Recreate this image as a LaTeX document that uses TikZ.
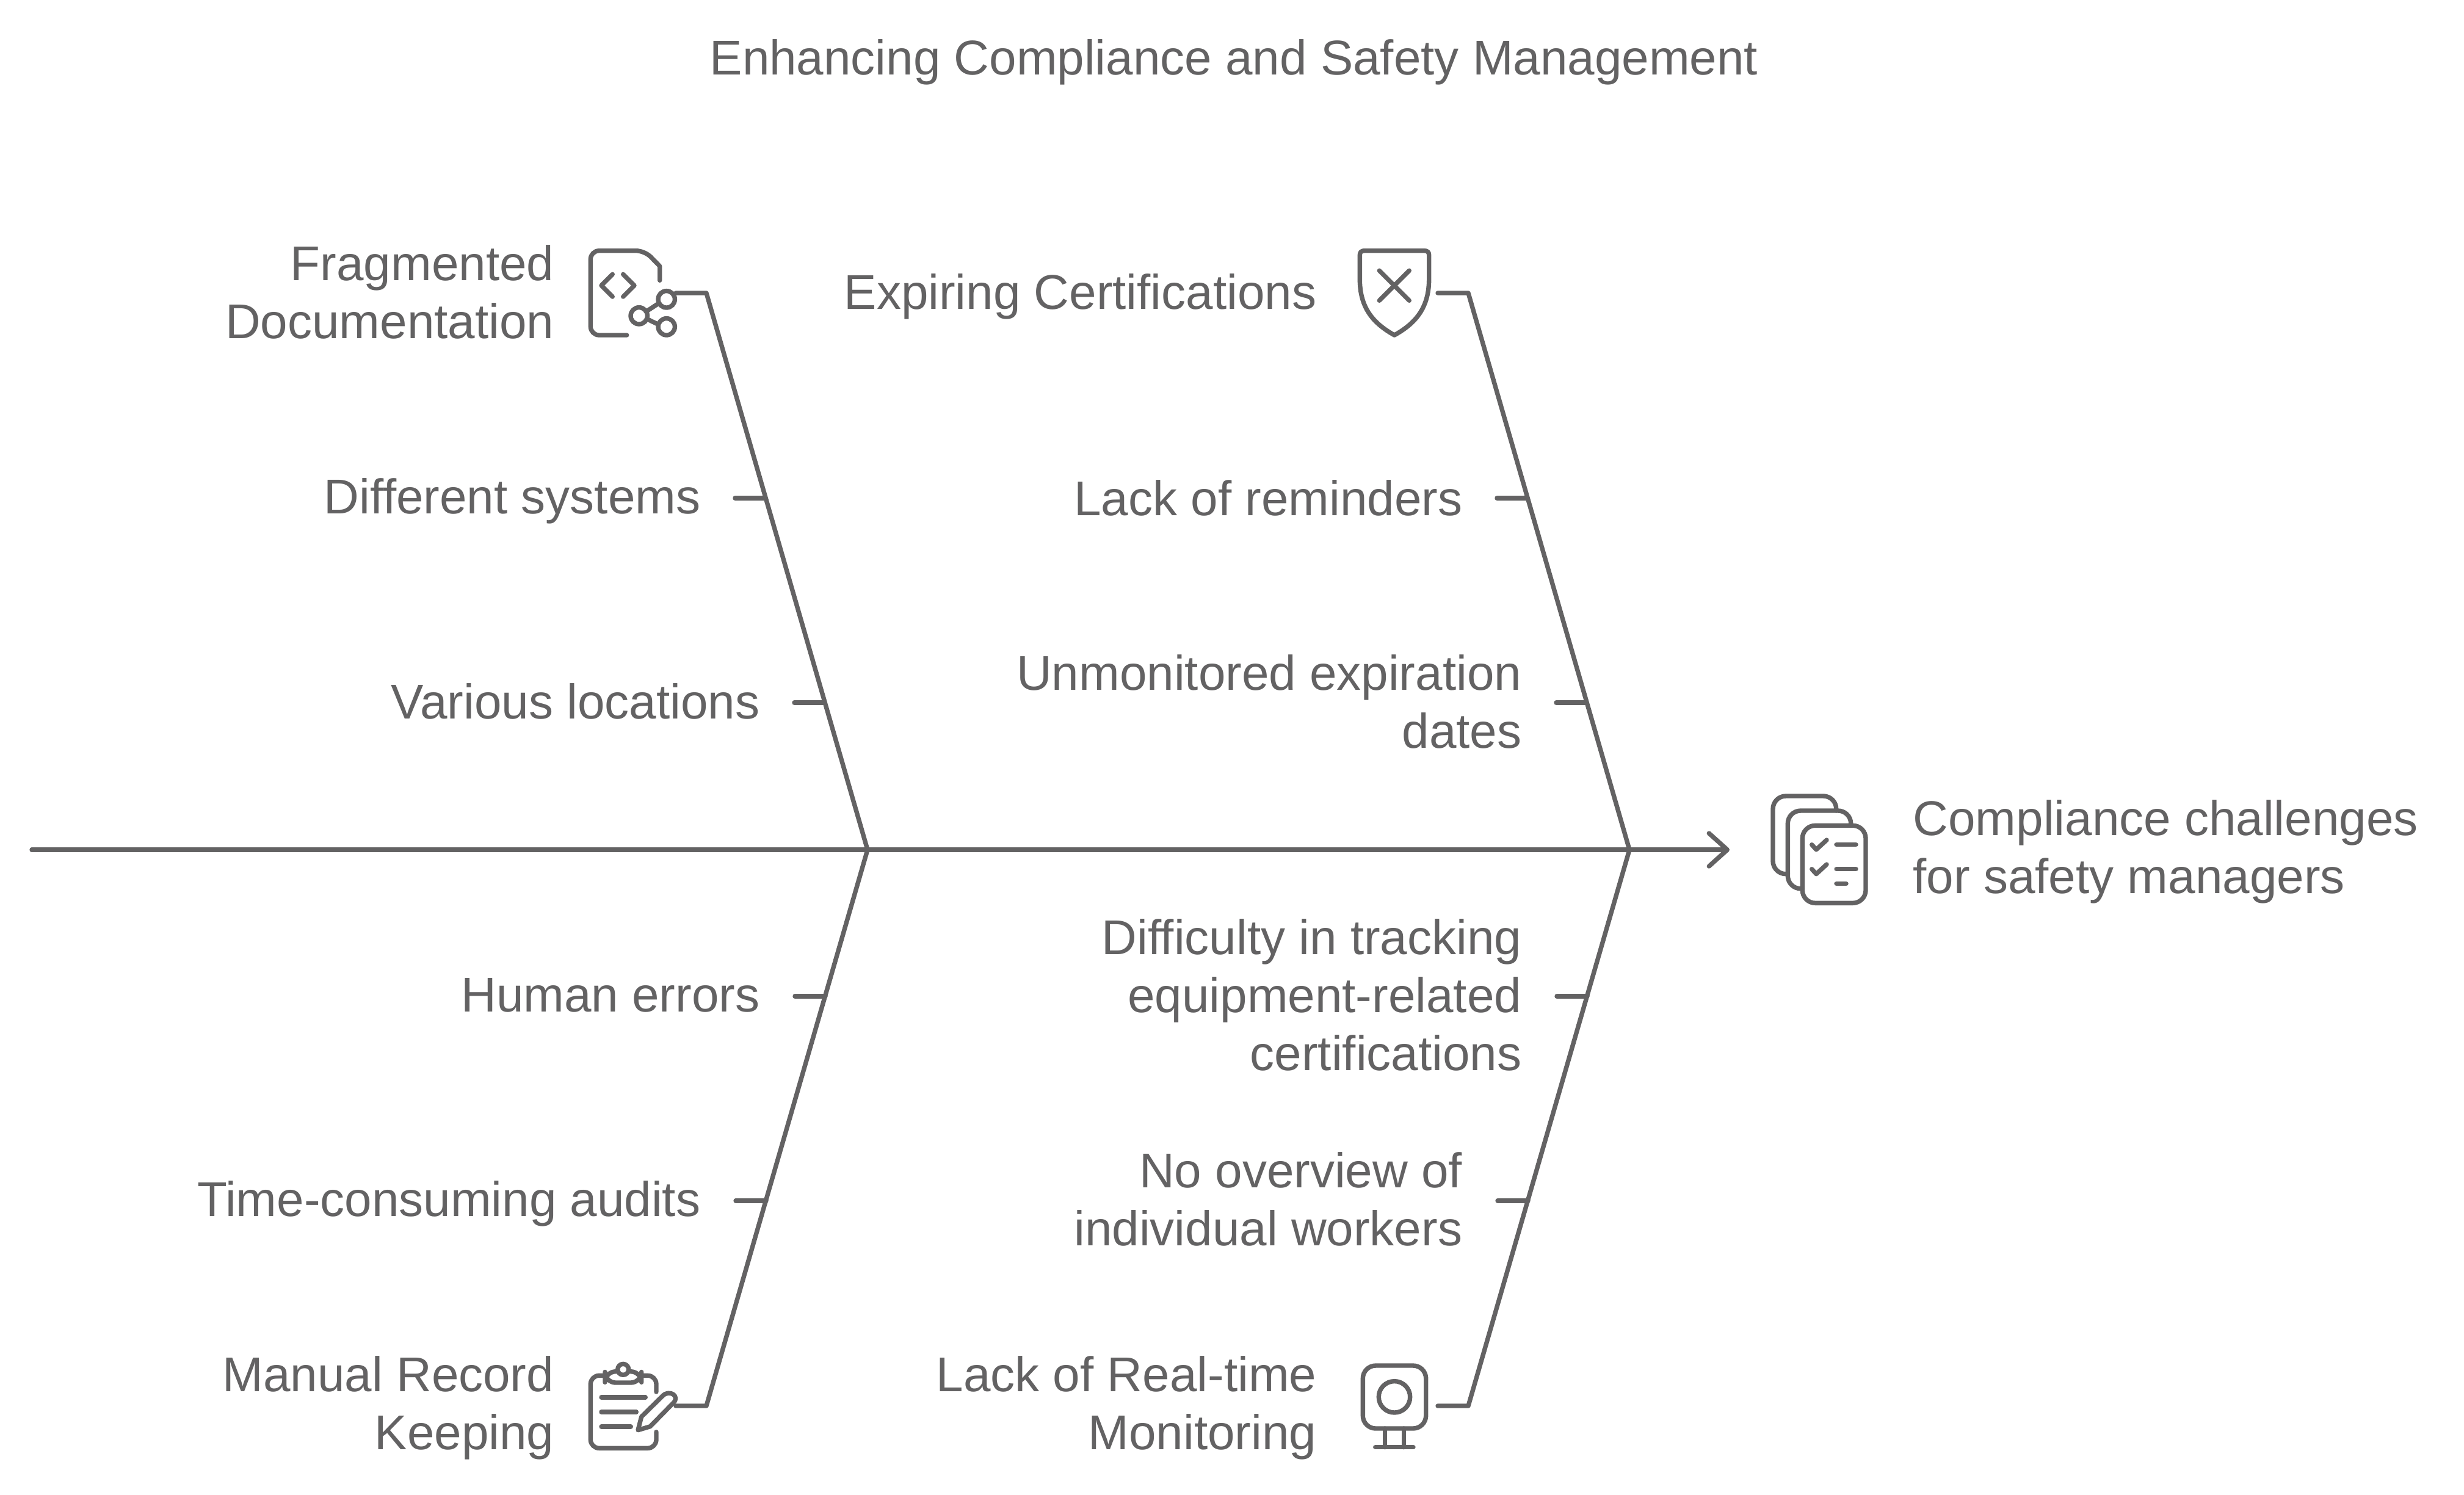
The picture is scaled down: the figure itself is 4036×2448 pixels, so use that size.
\documentclass[tikz,border=0pt]{standalone}
\usepackage{fontspec}
\setmainfont{Liberation Sans}
\usepackage{xcolor}
\usetikzlibrary{arrows.meta}
\definecolor{ink}{HTML}{636263}

\begin{document}
\begin{tikzpicture}[
  x=0.01cm, y=-0.01cm,
  font=\fontsize{22.75}{27}\selectfont,
  >={Straight Barb[round,length=0.3cm,width=0.54cm]},
  lab/.style={text=ink, inner sep=0pt, align=right, anchor=east},
  bone/.style={draw=ink, line width=2.1pt, line cap=round, line join=round},
  icon/.style={bone},
]
\useasboundingbox (0,0) rectangle (4036,2448);

%% -- Title and effect --------------------------------------------------------
\node[lab, anchor=center, align=center] (title) at (2021,102) {Enhancing Compliance and Safety Management};
\node[lab, anchor=west, align=left] (effect) at (3133,1395.5) {Compliance challenges\\for safety managers};

%% -- Labels ------------------------------------------------------------------
\node[lab] (fragdoc)  at (908,478)    {Fragmented\\Documentation};
\node[lab] (diffsys)  at (1148,821)   {Different systems};
\node[lab] (varloc)   at (1245,1149)  {Various locations};
\node[lab] (expcert)  at (2157,486)   {Expiring Certifications};
\node[lab] (lackrem)  at (2396,816)   {Lack of reminders};
\node[lab] (unmon)    at (2493,1149)  {Unmonitored expiration\\dates};
\node[lab] (humerr)   at (1245,1630)  {Human errors};
\node[lab] (audits)   at (1148,1972)  {Time-consuming audits};
\node[lab] (manual)   at (908,2306.5) {Manual Record\\Keeping};
\node[lab] (difftrk)  at (2493,1629.5) {Difficulty in tracking\\equipment-related\\certifications};
\node[lab] (noover)   at (2396,1964.5) {No overview of\\individual workers};
\node[lab] (realtime) at (2157,2306.5) {Lack of Real-time\\Monitoring};

%% -- Spine -------------------------------------------------------------------
\coordinate (spinestart) at (52,1392);
\coordinate (jointl)     at (1421,1392);
\coordinate (jointr)     at (2669,1392);
\coordinate (spineend)   at (2833,1392);
\draw[bone, ->] (spinestart) -- (spineend);

%% -- Bones -------------------------------------------------------------------
\coordinate (tlstart) at (1107,480);  \coordinate (tlbend) at (1157,480);
\coordinate (trstart) at (2355,480);  \coordinate (trbend) at (2405,480);
\coordinate (blstart) at (1107,2303); \coordinate (blbend) at (1157,2303);
\coordinate (brstart) at (2355,2303); \coordinate (brbend) at (2405,2303);
\draw[bone] (tlstart) -- (tlbend) -- (jointl);
\draw[bone] (trstart) -- (trbend) -- (jointr);
\draw[bone] (blstart) -- (blbend) -- (jointl);
\draw[bone] (brstart) -- (brbend) -- (jointr);

%% -- Ticks -------------------------------------------------------------------
\foreach \name/\xa/\xb/\ya in {dsys/1204/1254/816, vloc/1301/1351/1151,
    lrem/2452/2502/816, umon/2549/2599/1151,
    herr/1302/1352/1632, taud/1205/1255/1967,
    dtrk/2550/2600/1632, nove/2453/2503/1967}{
  \coordinate (\name a) at (\xa,\ya);
  \coordinate (\name b) at (\xb,\ya);
  \draw[bone] (\name a) -- (\name b);
}

%% -- Document icon -----------------------------------------------------------
\draw[icon, rounded corners=4pt] (1026.7,549) -- (967.3,549) -- (967.3,410.7) -- (1056,410.7)
  [sharp corners] -- (1080.7,436) -- (1080.7,459.3);
\draw[icon] (1003.3,449.3) -- (985,467.7) -- (1003.3,486);
\draw[icon] (1020.7,449.3) -- (1039,467.7) -- (1020.7,486);
\draw[icon] (1091.7,490.3) circle[radius=13.7];
\draw[icon] (1046.7,517.3) circle[radius=13.7];
\draw[icon] (1091.7,535.3) circle[radius=13.7];
\draw[icon] (1060,509.3) -- (1078.3,497.3);
\draw[icon] (1060,522.7) -- (1076.7,530.7);

%% -- Shield icon -------------------------------------------------------------
\draw[icon] (2284,549) .. controls (2250,530) and (2227.3,505) .. (2227.3,457)
  -- (2227.3,418) .. controls (2227.3,413) and (2230,410.7) .. (2235,410.7)
  -- (2333,410.7) .. controls (2338,410.7) and (2340.7,413) .. (2340.7,418)
  -- (2340.7,457) .. controls (2340.7,505) and (2318,530) .. (2284,549);
\draw[icon] (2259.3,443.3) -- (2308.3,492.3);
\draw[icon] (2308.3,443.3) -- (2259.3,492.3);

%% -- Stacked checklist icon --------------------------------------------------
\draw[icon, rounded corners=6pt] (3007.7,1328) -- (3007.7,1304) -- (2904,1304) -- (2904,1431.7) -- (2928.3,1431.7);
\draw[icon, rounded corners=6pt] (3031.7,1352.3) -- (3031.7,1328) -- (2928.3,1328) -- (2928.3,1455.7) -- (2952.3,1455.7);
\draw[icon, rounded corners=6pt] (2952.3,1352.3) rectangle (3056,1479.3);
\draw[icon] (2967.7,1383.7) -- (2975,1391.7) -- (2992,1376);
\draw[icon] (2967.7,1423.7) -- (2975,1431.7) -- (2992,1416);
\draw[icon] (3008,1383.7) -- (3040,1383.7);
\draw[icon] (3008,1423.7) -- (3040,1423.7);
\draw[icon] (3008,1447.7) -- (3024,1447.7);

%% -- Clipboard icon ----------------------------------------------------------
\draw[icon, rounded corners=4pt] (1075,2280) -- (1075,2253.3) -- (1050.7,2253.3);
\draw[icon, rounded corners=4pt] (991,2253.3) -- (967.3,2253.3) -- (967.3,2372.3) -- (1075,2372.3) -- (1075,2345.7);
\draw[icon, rounded corners=5pt] (991,2246.7) rectangle (1050.7,2265);
\draw[icon, fill=white] (1020.7,2243.3) circle[radius=9];
\draw[icon] (985,2289) -- (1057.3,2289);
\draw[icon] (985,2313) -- (1042.3,2313);
\draw[icon] (985,2337) -- (1033.3,2337);
\draw[icon] (1045,2342.7) -- (1050.7,2320.7) -- (1086,2286)
  .. controls (1097,2276) and (1114,2287) .. (1103,2298) -- (1065,2336.7) -- cycle;

%% -- Camera icon -------------------------------------------------------------
\draw[icon, rounded corners=6pt] (2232.3,2237) rectangle (2335.7,2340);
\draw[icon] (2284,2288.3) circle[radius=25.7];
\draw[icon] (2268.7,2340) -- (2268.7,2370.7);
\draw[icon] (2299.3,2340) -- (2299.3,2370.7);
\draw[icon] (2252.7,2370.7) -- (2315,2370.7);

\end{tikzpicture}
\end{document}
